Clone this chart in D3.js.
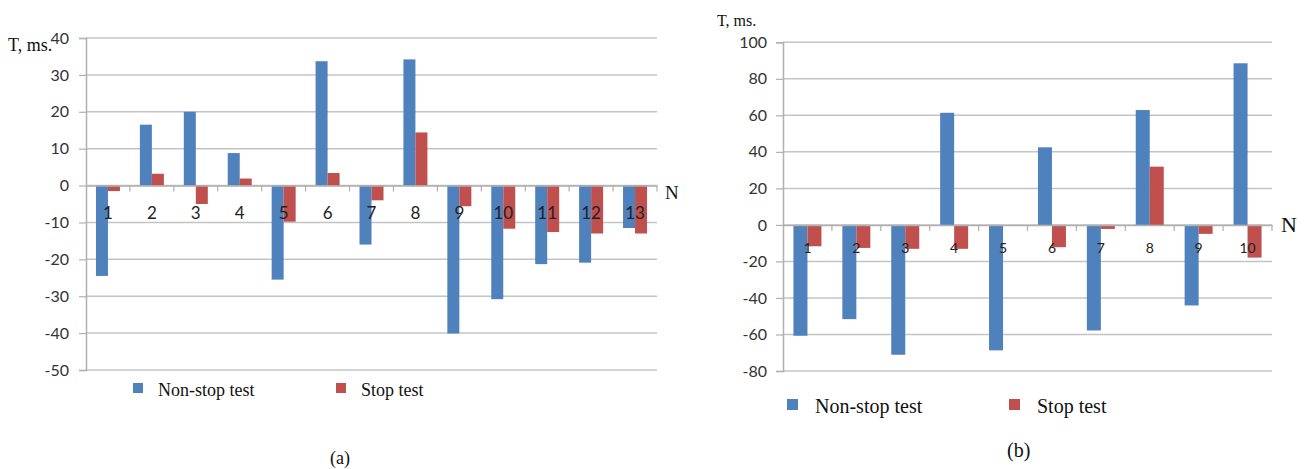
<!DOCTYPE html>
<html>
<head>
<meta charset="utf-8">
<script src="https://cdn.jsdelivr.net/npm/d3@7"></script>
<style>
  html, body { margin: 0; padding: 0; background: #fff; }
  svg { display: block; }
  .serif { font-family: "Liberation Serif", "Times New Roman", Times, "DejaVu Serif", serif; }
  .sans { font-family: Lato, "Open Sans", sans-serif; }
</style>
</head>
<body>
<svg id="chart" width="1304" height="469"></svg>
<script>
// ---- Data (a) ----
const catsA = ["1","2","3","4","5","6","7","8","9","10","11","12","13"];
const nonStopA = [-24.5, 16.5, 20, 8.8, -25.5, 33.7, -16, 34.2, -40.1, -30.8, -21.3, -20.9, -11.5];
const stopA    = [-1.5, 3.2, -5, 1.9, -9.8, 3.4, -4, 14.4, -5.6, -11.7, -12.6, -13, -13];
const ticksA   = [40, 30, 20, 10, 0, -10, -20, -30, -40, -50];

// ---- Data (b) ----
const catsB = ["1","2","3","4","5","6","7","8","9","10"];
const nonStopB = [-60.7, -51.6, -71.1, 61.4, -68.7, 42.5, -57.8, 62.9, -44.1, 88.5];
const stopB    = [-11.7, -12.6, -13.1, -13.1, 0, -12.2, -2.2, 31.9, -4.9, -17.9];
const ticksB   = [100, 80, 60, 40, 20, 0, -20, -40, -60, -80];

const seriesNames = ["Non-stop test", "Stop test"];
const colors = ["#4f81bd", "#c0504d"];

const svg = d3.select("#chart");

function drawPanel(cfg) {
  const g = svg.append("g");
  const x = d3.scaleBand().domain(cfg.cats).range([cfg.x0, cfg.x1]).paddingInner(0).paddingOuter(0);
  const y = d3.scaleLinear().domain([d3.min(cfg.ticks), d3.max(cfg.ticks)]).range([cfg.yBottom, cfg.yTop]);
  const sub = d3.scaleBand().domain([0, 1]).range([0, cfg.barW * 2]);

  // gridlines
  g.append("g").selectAll("line").data(cfg.ticks).join("line")
    .attr("x1", cfg.x0).attr("x2", cfg.x1)
    .attr("y1", d => y(d)).attr("y2", d => y(d))
    .attr("stroke", "#c4c4c4").attr("stroke-width", 1.5);

  // y axis
  const yAxis = d3.axisLeft(y).tickValues(cfg.ticks).tickSize(7).tickPadding(cfg.tickPad).tickFormat(d => String(d));
  const ya = g.append("g").attr("transform", `translate(${cfg.x0},0)`).call(yAxis);
  ya.attr("font-family", null).attr("font-size", null);
  ya.select(".domain").attr("stroke", "#b0b0b0").attr("stroke-width", 1.5);
  ya.selectAll(".tick line").attr("stroke", "#b0b0b0").attr("stroke-width", 1.2);
  ya.selectAll(".tick text").attr("class", "sans")
    .attr("font-size", cfg.yFont).attr("fill", "#333");

  // bars
  const series = [cfg.nonStop, cfg.stop];
  series.forEach((vals, si) => {
    g.append("g").selectAll("rect").data(vals).join("rect")
      .attr("x", (d, i) => x(cfg.cats[i]) + x.bandwidth() / 2 - cfg.barW + sub(si))
      .attr("width", cfg.barW)
      .attr("y", d => y(Math.max(0, d)))
      .attr("height", d => Math.abs(y(d) - y(0)))
      .attr("fill", colors[si]);
  });

  // x axis at zero
  const xAxis = d3.axisBottom(x).tickSize(0).tickFormat("");
  const xa = g.append("g").attr("transform", `translate(0,${y(0)})`).call(xAxis);
  xa.select(".domain").attr("stroke", "#b0b0b0").attr("stroke-width", 1.5);
  // boundary ticks
  const bounds = cfg.cats.map(c => x(c)).concat([cfg.x1]).slice(1);
  g.append("g").selectAll("line").data(bounds).join("line")
    .attr("x1", d => d).attr("x2", d => d)
    .attr("y1", y(0)).attr("y2", y(0) + 6)
    .attr("stroke", "#b0b0b0").attr("stroke-width", 1.2);

  // category labels
  g.append("g").selectAll("text").data(cfg.cats).join("text")
    .attr("class", "sans")
    .attr("x", d => x(d) + x.bandwidth() / 2)
    .attr("y", y(0) + cfg.catOffset)
    .attr("text-anchor", "middle")
    .attr("font-size", cfg.catFont).attr("fill", "#222")
    .text(d => d);

  // axis titles
  g.append("text").attr("class", "serif").attr("x", cfg.tX).attr("y", cfg.tY)
    .attr("font-size", cfg.tFont).attr("fill", "#111").text("T, ms.");
  g.append("text").attr("class", "serif").attr("x", cfg.nX).attr("y", cfg.nY)
    .attr("font-size", cfg.nFont).attr("fill", "#111").text("N");

  // legend
  seriesNames.forEach((name, i) => {
    g.append("rect").attr("x", cfg.legX[i]).attr("y", cfg.legY - cfg.legSq + 1)
      .attr("width", cfg.legSq).attr("height", cfg.legSq).attr("fill", colors[i]);
    g.append("text").attr("class", "serif").attr("x", cfg.legX[i] + cfg.legSq + cfg.legGap).attr("y", cfg.legY + 4)
      .attr("font-size", cfg.legFont).attr("fill", "#111").text(name);
  });

  // caption
  g.append("text").attr("class", "serif").attr("x", cfg.capX).attr("y", cfg.capY)
    .attr("font-size", cfg.capFont).attr("fill", "#111").text(cfg.caption);
}

drawPanel({
  cats: catsA, nonStop: nonStopA, stop: stopA, ticks: ticksA,
  x0: 86, x1: 657, yTop: 38, yBottom: 370, barW: 12,
  tickPad: 10, yFont: 16, catFont: 17, catOffset: 33,
  tX: 8, tY: 51, tFont: 18, nX: 665, nY: 199, nFont: 19,
  legX: [133, 336], legY: 392, legSq: 10, legGap: 15, legFont: 18,
  capX: 330, capY: 464, capFont: 18, caption: "(a)"
});

drawPanel({
  cats: catsB, nonStop: nonStopB, stop: stopB, ticks: ticksB,
  x0: 783, x1: 1272, yTop: 42.3, yBottom: 371, barW: 14,
  tickPad: 9, yFont: 16, catFont: 14, catOffset: 28,
  tX: 717, tY: 26, tFont: 16, nX: 1281, nY: 232, nFont: 22,
  legX: [787, 1009], legY: 409, legSq: 11, legGap: 17, legFont: 20,
  capX: 1007, capY: 457, capFont: 20, caption: "(b)"
});
</script>
</body>
</html>
